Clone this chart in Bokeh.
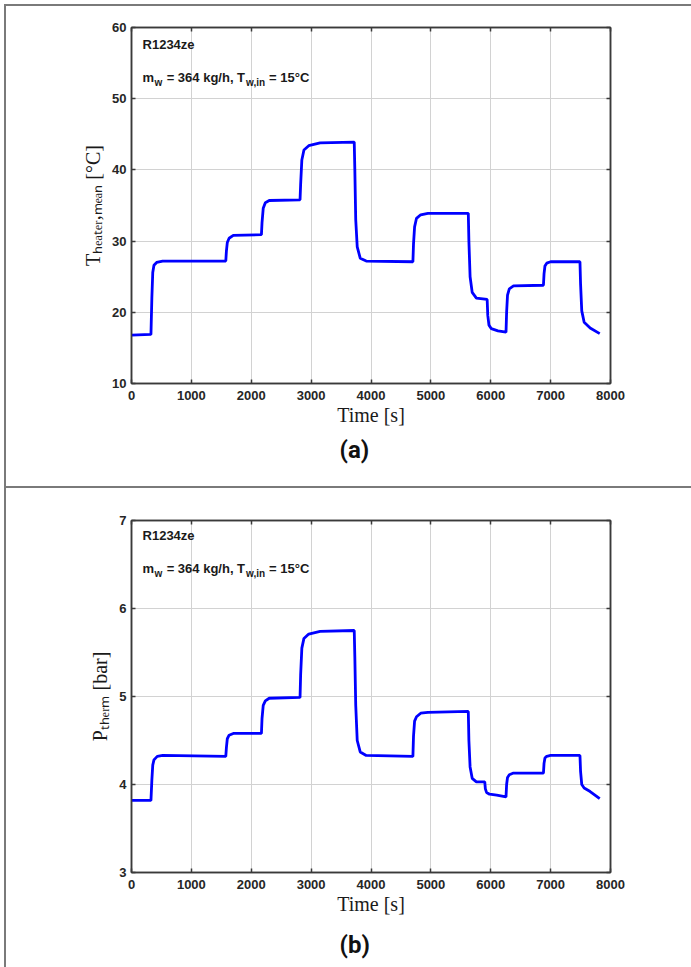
from bokeh.plotting import figure
from bokeh.models import Label, LinearAxis, FixedTicker, Range1d, Title
from bokeh.layouts import column
from bokeh.embed import file_html
from bokeh.resources import INLINE

# ---------------- data ----------------
x_ticks = [0, 1000, 2000, 3000, 4000, 5000, 6000, 7000, 8000]
y_ticks_a = [10, 20, 30, 40, 50, 60]
y_ticks_b = [3, 4, 5, 6, 7]

time_a = [0, 325, 340, 355, 375, 420, 520,
          1575, 1585, 1600, 1630, 1700,
          2170, 2180, 2200, 2235, 2300,
          2815, 2825, 2845, 2880, 2960, 3150,
          3720, 3730, 3745, 3770, 3820, 3920,
          4700, 4710, 4728, 4760, 4830, 4950,
          5625, 5635, 5655, 5690, 5760,
          5940, 5950, 5970, 6010, 6120,
          6255, 6265, 6280, 6310, 6380,
          6880, 6890, 6905, 6935, 7000,
          7490, 7500, 7520, 7560, 7660, 7820]
temp_a = [16.8, 16.9, 22.0, 25.6, 26.6, 27.0, 27.2,
          27.2, 28.6, 29.8, 30.4, 30.8,
          30.9, 32.6, 34.6, 35.4, 35.7,
          35.8, 38.0, 41.4, 42.8, 43.4, 43.8,
          43.9, 40.0, 33.0, 29.2, 27.6, 27.2,
          27.1, 29.6, 32.0, 33.2, 33.7, 33.9,
          33.9, 30.0, 25.0, 22.8, 22.0,
          21.8, 19.6, 18.2, 17.7, 17.4,
          17.2, 20.0, 22.4, 23.3, 23.7,
          23.8, 25.4, 26.5, 26.9, 27.1,
          27.1, 24.0, 20.2, 18.6, 17.8, 17.0]

time_b = [0, 325, 340, 355, 375, 430, 520,
          1575, 1585, 1600, 1630, 1700,
          2170, 2180, 2200, 2235, 2300,
          2815, 2825, 2845, 2880, 2960, 3150,
          3720, 3730, 3745, 3770, 3820, 3920,
          4700, 4710, 4728, 4760, 4830, 4950,
          5625, 5635, 5655, 5690, 5760,
          5900, 5910, 5930, 5980, 6100,
          6255, 6265, 6280, 6310, 6380,
          6880, 6890, 6905, 6935, 7000,
          7490, 7500, 7520, 7560, 7660, 7820]
pres_b = [3.82, 3.82, 4.05, 4.22, 4.28, 4.32, 4.33,
          4.32, 4.42, 4.52, 4.56, 4.58,
          4.58, 4.75, 4.90, 4.95, 4.98,
          4.99, 5.25, 5.55, 5.66, 5.71, 5.74,
          5.75, 5.45, 4.90, 4.50, 4.37, 4.33,
          4.32, 4.55, 4.72, 4.77, 4.81, 4.82,
          4.83, 4.50, 4.20, 4.07, 4.03,
          4.03, 3.95, 3.91, 3.89, 3.88,
          3.86, 4.00, 4.08, 4.11, 4.13,
          4.13, 4.24, 4.30, 4.32, 4.33,
          4.33, 4.15, 4.00, 3.96, 3.92, 3.84]

fluid = "R1234ze"
x_label = "Time [s]"
y_label_a = "T\u2095\u2091\u2090\u209c\u2091\u1d63,\u2098\u2091\u2090\u2099 [\u00b0C]"
y_label_b = "P\u209c\u2095\u2091\u1d63\u2098 [bar]"
panel_a = "(a)"
panel_b = "(b)"

AX = "#3a3a3a"
SANS = "Liberation Sans"
SERIF = "Liberation Serif"
BORDER = "2px solid #7a7a7a"


def make_fig(height, top, bottom, y0, y1, yticks, ylabel, panel, margin, title_standoff):
    p = figure(width=687, height=height,
               x_range=Range1d(0, 8000), y_range=Range1d(y0, y1),
               output_backend="svg", toolbar_location=None,
               min_border_left=125, min_border_right=83,
               min_border_top=top, min_border_bottom=bottom,
               styles={"border-top": BORDER, "border-left": BORDER},
               margin=margin)
    p.background_fill_color = "white"
    p.border_fill_color = "white"
    p.outline_line_color = AX
    p.outline_line_width = 1.5
    p.xaxis.ticker = FixedTicker(ticks=x_ticks)
    p.yaxis.ticker = FixedTicker(ticks=yticks)
    p.add_layout(LinearAxis(ticker=FixedTicker(ticks=x_ticks)), "above")
    p.add_layout(LinearAxis(ticker=FixedTicker(ticks=yticks)), "right")
    for ax in p.axis:
        ax.major_tick_in = 4
        ax.major_tick_out = 0
        ax.minor_tick_line_color = None
        ax.axis_line_color = AX
        ax.axis_line_width = 1.5
        ax.major_tick_line_color = AX
        ax.major_tick_line_width = 1.5
        ax.major_label_text_font = SANS
        ax.major_label_text_font_style = "bold"
        ax.major_label_text_font_size = "13px"
        ax.major_label_text_color = "#262626"
    p.above[0].major_label_text_color = None
    p.right[0].major_label_text_color = None
    p.below[0].major_label_standoff = 7
    p.left[0].major_label_standoff = 5
    for ax, lab in ((p.below[0], x_label), (p.left[0], ylabel)):
        ax.axis_label = lab
        ax.axis_label_text_font = SERIF
        ax.axis_label_text_font_style = "normal"
        ax.axis_label_text_font_size = "20px"
        ax.axis_label_text_color = "#1a1a1a"
    p.below[0].axis_label_standoff = 1
    p.left[0].axis_label_standoff = 5
    p.xgrid.ticker = FixedTicker(ticks=x_ticks)
    p.ygrid.ticker = FixedTicker(ticks=yticks)
    p.grid.grid_line_color = "#d2d2d2"
    p.grid.grid_line_width = 1
    p.add_layout(Title(text=panel, align="left", offset=208,
                       text_font="Roboto", text_font_style="bold",
                       text_font_size="24px", text_color="#111111",
                       standoff=title_standoff), "below")
    return p


def info_text(p, y_r, y_m):
    def lab(x, y, text, size):
        p.add_layout(Label(x=x, y=y, text=text, x_units="data", y_units="data",
                           text_font=SANS, text_font_style="bold",
                           text_font_size=f"{size}px", text_align="left",
                           text_baseline="middle", text_color="#1a1a1a"))
    lab(*y_r(0), fluid, 13)
    lab(*y_m(0, 0), "m", 13)
    lab(*y_m(1, 5), "w", 10)
    lab(*y_m(2, 0), "= 364 kg/h, T", 13)
    lab(*y_m(3, 5), "w,in", 10)
    lab(*y_m(4, 0), "= 15\u00b0C", 13)


# horizontal pixel starts of the info pieces (page px)
PIECE_X = [142, 154, 166, 245, 268]


def px2x(px):
    return (px - 131.0) * 8000.0 / (608.0 - 131.0)


def make_info(p, ptop, pbot, y0, y1, row1, row2):
    fy = lambda py: y1 - (py - ptop) * (y1 - y0) / (pbot - ptop)
    info_text(p,
              lambda i: (px2x(PIECE_X[0]), fy(row1)),
              lambda i, dy: (px2x(PIECE_X[i]), fy(row2 + dy)))


# ---------------- (a) heater temperature ----------------
p1 = make_fig(482, 21, 105, 10, 60, y_ticks_a, y_label_a, panel_a, (4, 0, 0, 4), 11)
p1.line(time_a, temp_a, line_color="#0000ff", line_width=2.8)
make_info(p1, 27, 381, 10, 60, 44, 77)

# ---------------- (b) thermosiphon pressure ----------------
p2 = make_fig(481, 32, 97, 3, 7, y_ticks_b, y_label_b, panel_b, (0, 0, 0, 4), 22)
p2.line(time_b, pres_b, line_color="#0000ff", line_width=2.8)
make_info(p2, 520, 870, 3, 7, 535, 568)

layout = column(p1, p2)
open("out.html", "w").write(file_html(layout, INLINE))
